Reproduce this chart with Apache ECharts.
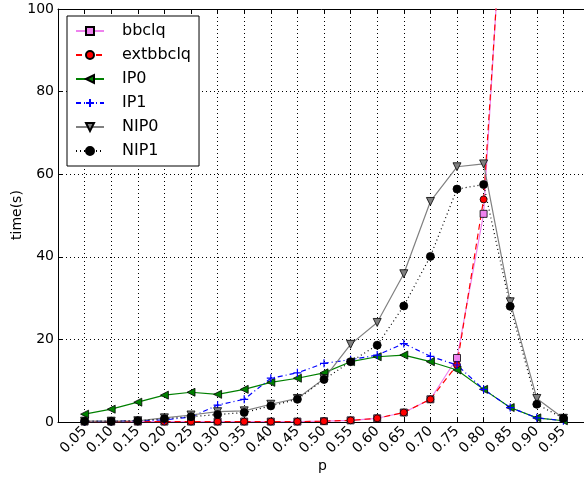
<!DOCTYPE html>
<html><head><meta charset="utf-8">
<script src="https://cdn.jsdelivr.net/npm/echarts@6/dist/echarts.min.js"></script>
<style>html,body{margin:0;padding:0;background:#fff}#c{width:584px;height:477px}</style>
</head><body><div id="c"></div>
<script>
const pValues = [0.05,0.10,0.15,0.20,0.25,0.30,0.35,0.40,0.45,0.50,0.55,0.60,0.65,0.70,0.75,0.80,0.85,0.90,0.95];
const bbclq    = [0.1,0.1,0.1,0.1,0.1,0.1,0.1,0.1,0.1,0.2,0.4,0.9,2.3,5.5,15.5,50.4,157];
const extbbclq = [0.1,0.1,0.1,0.1,0.1,0.1,0.1,0.1,0.1,0.2,0.4,0.9,2.3,5.5,13.8,53.9,153];
const IP0  = [1.9,3.1,4.8,6.5,7.2,6.7,7.9,9.6,10.6,11.9,14.6,15.8,16.2,14.6,12.6,7.9,3.5,1.0,0.3];
const IP1  = [0.1,0.2,0.3,0.5,1.2,4.1,5.5,10.6,11.9,14.2,15.1,16.2,19.0,15.9,13.8,7.9,3.5,1.0,0.3];
const NIP0 = [0.2,0.2,0.3,1.0,1.7,2.5,2.7,4.3,5.7,10.5,18.8,24.1,35.9,53.4,61.8,62.5,29.1,5.7,0.9];
const NIP1 = [0.2,0.2,0.3,0.8,1.3,1.8,2.3,3.9,5.5,10.3,14.6,18.6,28.1,40.1,56.4,57.5,28.0,4.3,0.9];
const yTicks = [0,20,40,60,80,100];
const xTitle = 'p';
const yTitle = 'time(s)';

const font = 'DejaVu Sans';
const pair = arr => arr.map((v,i)=>[pValues[i], v]);
const plus = 'path://M5,0L5,10M0,5L10,5';

function S(name, data, color, lineType, symbol, rot, size, fill, lw) {
  return {
    name, type:'line', data: pair(data), clip:true,
    symbol, symbolRotate: rot, symbolSize: size,
    itemStyle:{color: fill, borderColor: symbol===plus ? color : '#000', borderWidth: symbol===plus?1.2:0.8},
    lineStyle:{color, width: lw||1.2, type: lineType},
    emphasis:{disabled:true}, animation:false
  };
}

const chart = echarts.init(document.getElementById('c'), null, {renderer:'canvas'});
chart.setOption({
  animation:false,
  textStyle:{fontFamily:font},
  grid:{left:58, top:9, width:532, height:413, outerBoundsMode:'none', containLabel:false},
  graphic:[
    {type:'text', left:318, top:459, style:{text:xTitle, font:'14px "DejaVu Sans"', fill:'#000'}},
    {type:'text', x:10, y:240, rotation:Math.PI/2, style:{text:yTitle, font:'14px "DejaVu Sans"', fill:'#000'}}
  ],
  legend:{
    orient:'vertical', left:67, top:16,
    backgroundColor:'#fff', borderColor:'#000', borderWidth:1,
    padding:[7,8,7,8], itemGap:8, itemWidth:28, itemHeight:10,
    textStyle:{fontFamily:font, fontSize:16, color:'#000', padding:[0,0,0,13]},
    data:['bbclq','extbbclq','IP0','IP1','NIP0','NIP1']
  },
  xAxis:[{
    type:'value', min:0, max:1, interval:0.05,
    axisLine:{lineStyle:{color:'#000', width:1}},
    axisTick:{inside:true, length:4, lineStyle:{color:'#000'}},
    axisLabel:{rotate:45, fontFamily:font, fontSize:14, color:'#000', margin:7,
      formatter: v => (v < 0.01 || v > 0.99) ? '' : v.toFixed(2)},
    splitLine:{show:true, lineStyle:{color:'#000', type:[1,3], width:1}}
  },{
    type:'value', min:0, max:1, interval:0.05, position:'top',
    axisLine:{lineStyle:{color:'#000', width:1}},
    axisTick:{inside:true, length:4, lineStyle:{color:'#000'}},
    axisLabel:{show:false}, splitLine:{show:false}
  }],
  yAxis:[{
    type:'value', min:0, max:100, interval:20,
    axisLine:{show:true, lineStyle:{color:'#000', width:1}},
    axisTick:{show:true, inside:true, length:4, lineStyle:{color:'#000'}},
    axisLabel:{fontFamily:font, fontSize:14, color:'#000', margin:4,
      formatter: v => yTicks.includes(v) ? String(v) : ''},
    splitLine:{show:true, lineStyle:{color:'#000', type:[1,3], width:1}}
  }],
  series:[
    S('bbclq', bbclq, '#ee82ee', 'solid', 'rect', 0, 7, '#ee82ee'),
    S('extbbclq', extbbclq, '#ff0000', [6,4], 'circle', 0, 7, '#ff0000'),
    S('IP0', IP0, '#008000', 'solid', 'triangle', 90, 8, '#008000'),
    S('IP1', IP1, '#0000ff', [5,3,1,3], plus, 0, 8, '#0000ff'),
    S('NIP0', NIP0, '#808080', 'solid', 'triangle', 180, 8, '#808080'),
    S('NIP1', NIP1, '#000000', [1,3], 'circle', 0, 8, '#000000')
  ]
});
</script></body></html>
